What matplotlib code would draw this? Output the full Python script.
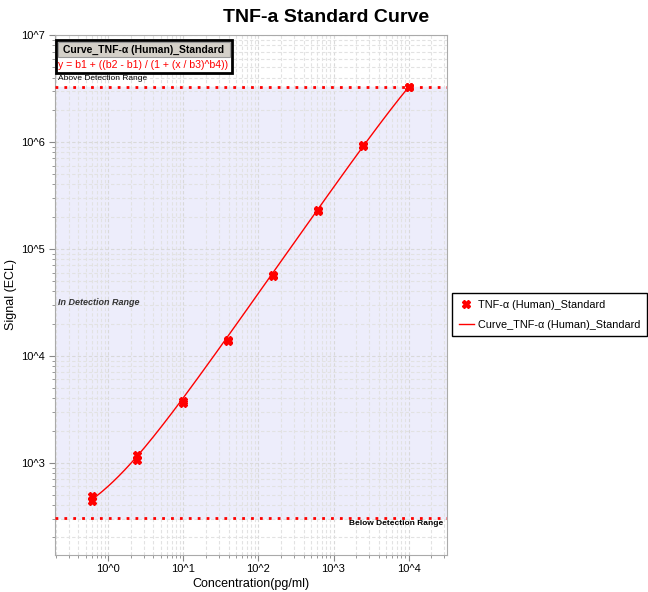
import numpy as np
import matplotlib
matplotlib.use('Agg')
import matplotlib.pyplot as plt
from matplotlib.patches import Rectangle
from matplotlib.ticker import FixedLocator, FuncFormatter, LogLocator, NullFormatter

plt.rcParams['font.family'] = ['Liberation Sans', 'DejaVu Sans']

# standards: concentration (pg/ml) and two replicate signals
conc = [0.61, 2.44, 9.77, 39.1, 156.0, 625.0, 2500.0, 10000.0]
rep1 = [440, 1070, 3650, 13800, 56000, 228000, 925000, 3240000]
rep2 = [490, 1180, 3750, 14100, 57000, 231000, 935000, 3280000]

# 4PL fit parameters: y = b1 + ((b2 - b1) / (1 + (x / b3)^b4))
b1 = 220.0
b2 = 2.2e7
b3 = 57500.0
b4 = -1.0

above_limit = 3.26e6
below_limit = 305.0

conc = np.array(conc)
rep = np.vstack([rep1, rep2]).astype(float)
mean = rep.mean(axis=0)
sd = rep.std(axis=0, ddof=1)

W, H = 648.0, 592.0
fig = plt.figure(figsize=(6.48, 5.92), dpi=100)
ax = fig.add_axes([55 / W, 37 / H, 392 / W, 520 / H])

ax.set_xscale('log')
ax.set_yscale('log')
ax.set_xlim(0.196, 32400)
ax.set_ylim(137, 1.0e7)

# detection range shading and limits
ax.axhspan(below_limit, above_limit, color='#ededfb', zorder=0)
ax.axhline(above_limit, color='red', lw=2, ls=(0, (1, 2.2)), zorder=3)
ax.axhline(below_limit, color='red', lw=2, ls=(0, (1, 2.2)), zorder=3)

# fitted curve
xs = np.logspace(np.log10(conc[0]), np.log10(conc[-1]), 300)
ys = b1 + (b2 - b1) / (1 + (xs / b3) ** b4)
ax.plot(xs, ys, color='red', lw=1, zorder=4)

# replicates + error bars
ax.errorbar(conc, mean, yerr=sd, fmt='none', ecolor='red', elinewidth=1,
            capsize=2.5, capthick=1.5, zorder=5)
for r in rep:
    ax.plot(conc, r, ls='none', marker='X', color='red', ms=5.5,
            mec='red', zorder=6)

# grid
ax.grid(True, which='major', color='#d9d9d9', ls=(0, (3, 2)), lw=0.8)
ax.grid(True, which='minor', color='#e2e2e2', ls=(0, (3, 2)), lw=0.8)
ax.set_axisbelow(True)

fmt = FuncFormatter(lambda v, p: '10^%d' % int(round(np.log10(v))))
ax.xaxis.set_major_locator(FixedLocator([1, 10, 100, 1000, 10000]))
ax.yaxis.set_major_locator(FixedLocator([1e3, 1e4, 1e5, 1e6, 1e7]))
ax.xaxis.set_major_formatter(fmt)
ax.yaxis.set_major_formatter(fmt)
ax.xaxis.set_minor_locator(LogLocator(base=10, subs=np.arange(2, 10)))
ax.yaxis.set_minor_locator(LogLocator(base=10, subs=np.arange(2, 10)))
ax.xaxis.set_minor_formatter(NullFormatter())
ax.yaxis.set_minor_formatter(NullFormatter())
ax.tick_params(which='both', colors='#888888', labelcolor='black', labelsize=8)
ax.tick_params(which='major', length=4)
ax.tick_params(which='minor', length=2)
ax.tick_params(axis='x', which='major', pad=2.5)
for s in ax.spines.values():
    s.set_color('#aaaaaa')

ax.set_xlabel('Concentration(pg/ml)', fontsize=9, labelpad=2.5)
ax.set_ylabel('Signal (ECL)', fontsize=9, labelpad=3)
fig.suptitle('TNF-a Standard Curve', x=0.503, y=(H - 18) / H, va='center',
             fontsize=14, fontweight='bold')

# range labels
ax.text(0.008, above_limit * 1.2, 'Above Detection Range', transform=ax.get_yaxis_transform(),
        fontsize=6, va='center', ha='left')
ax.text(0.008, 3.15e4, 'In Detection Range', transform=ax.get_yaxis_transform(),
        fontsize=6.5, style='italic', fontweight='bold', va='center', ha='left', color='#333333')
ax.text(0.99, below_limit * 0.88, 'Below Detection Range', transform=ax.get_yaxis_transform(),
        fontsize=6, fontweight='bold', va='center', ha='right')

# curve info box (top-left)
fig.patches.append(Rectangle((56 / W, (H - 73) / H), 176 / W, 33 / H, transform=fig.transFigure,
                             fc='white', ec='black', lw=2, zorder=10))
fig.patches.append(Rectangle((58 / W, (H - 57) / H), 172 / W, 15 / H, transform=fig.transFigure,
                             fc='#d4d0c8', ec='#999999', lw=0.8, zorder=11))
fig.text(144 / W, (H - 49.5) / H, 'Curve_TNF-\u03b1 (Human)_Standard', fontsize=7.5,
         fontweight='bold', ha='center', va='center', zorder=12)
fig.text(58 / W, (H - 65) / H, 'y = b1 + ((b2 - b1) / (1 + (x / b3)^b4))', fontsize=7.6,
         color='red', ha='left', va='center', zorder=12)

# legend outside right
h1, = ax.plot([], [], ls='none', marker='X', color='red', ms=5.5)
h2, = ax.plot([], [], color='red', lw=1)
fig.legend([h1, h2], ['TNF-\u03b1 (Human)_Standard', 'Curve_TNF-\u03b1 (Human)_Standard'],
           loc='upper left', bbox_to_anchor=(452 / W, (H - 293) / H), fontsize=7.8,
           frameon=True, fancybox=False, edgecolor='black', framealpha=1,
           handlelength=1.4, handletextpad=0.4, borderpad=0.6, labelspacing=0.95,
           borderaxespad=0)

fig.savefig('out.png', dpi=100)
